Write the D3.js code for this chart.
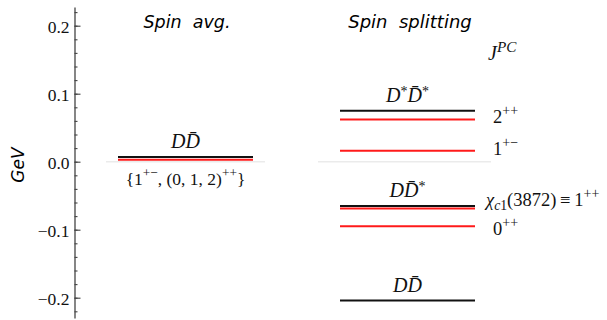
<!DOCTYPE html>
<html><head><meta charset="utf-8">
<script src="https://cdn.jsdelivr.net/npm/d3@7"></script>
<style>body{margin:0;background:#fff} svg{display:block}</style>
</head><body><svg id="c" width="607" height="320"></svg>
<script>
// ---- data ----
const panels = ["Spin avg.", "Spin splitting"];
const yTicks = [-0.2, -0.1, 0.0, 0.1, 0.2];
const yMinorTicks = [-0.22, -0.2, -0.18, -0.16, -0.14, -0.12, -0.1, -0.08, -0.06, -0.04, -0.02, 0, 0.02, 0.04, 0.06, 0.08, 0.1, 0.12, 0.14, 0.16, 0.18, 0.2, 0.22];
const levelPanel = [0, 0, 1, 1, 1, 1, 1, 1, 1];
const levelValue = [0.007, 0.003, 0.075, 0.062, 0.016, -0.065, -0.069, -0.095, -0.204];
const levelType  = ["threshold", "state", "threshold", "state", "state", "threshold", "state", "state", "threshold"];
// threshold labels, in order of threshold levels
const thresholdLabels = [
  [["D","i"],["D\u0304","i"]],
  [["D","i"],["*","ast"],["D\u0304","i"],["*","ast"]],
  [["D","i"],["D\u0304","i"],["*","ast"]],
  [["D","i"],["D\u0304","i"]]
];
// quantum-number labels (text, y in GeV)
const avgContent = [["{1","n"],["+\u2212","sup"],[", (0, 1, 2)","n"],["++","sup"],["}","n"]];
const jpcHeader = [["J","i"],["PC","supi"]];
const jpcLabels = [
  [["2","n"],["++","sup"]],
  [["1","n"],["+\u2212","sup"]],
  [["\u03C7","i"],["c","subi"],["1","sub"],["(3872)\u2009\u2261\u20091","n"],["++","sup"]],
  [["0","n"],["++","sup"]]
];
const jpcLabelValue = [0.057, 0.0099, -0.065, -0.108];
const jpcHeaderValue = 0.1496;

// ---- layout ----
const svg = d3.select("#c");
const y = d3.scaleLinear().domain([-0.23, 0.2275]).range([318.1, 7.0]);
const x = d3.scalePoint().domain(panels).range([185.5, 407.5]);
const halfW = 67.5;
const axisX = 74.5;
const serif = "'Liberation Serif', 'Times New Roman', serif";
const sans = "'DejaVu Sans', sans-serif";

// axis
const gAxis = svg.append("g").attr("transform", `translate(${axisX},0)`);
gAxis.call(d3.axisLeft(y).tickValues(yMinorTicks).tickSizeInner(-3).tickSizeOuter(0).tickFormat(""))
  .call(g => g.selectAll(".tick line").attr("stroke", "#444").attr("stroke-width", 1.1))
  .call(g => g.select(".domain").attr("stroke", "#444").attr("stroke-width", 1.3));
const gMaj = svg.append("g").attr("transform", `translate(${axisX},0)`)
  .attr("font-family", serif).attr("font-size", 17.5);
gMaj.call(d3.axisLeft(y).tickValues(yTicks).tickSizeInner(-6).tickSizeOuter(0).tickPadding(5).tickFormat(d3.format(".1f")))
  .attr("font-family", serif).attr("font-size", 17.5)
  .call(g => g.select(".domain").remove())
  .call(g => g.selectAll(".tick line").attr("stroke", "#444").attr("stroke-width", 1.1))
  .call(g => g.selectAll(".tick text").style("font-family", serif).style("font-size", "17.5px").attr("fill", "#111").attr("dy", "0.38em"));

// y label
svg.append("text").attr("transform", `translate(24,165) rotate(-90)`)
  .attr("text-anchor", "middle").attr("font-family", sans).attr("font-style", "oblique")
  .attr("font-size", 17).text("GeV");

// panel titles
svg.selectAll("text.title").data(panels).join("text").attr("class", "title")
  .attr("x", (d, i) => i === 0 ? 187 : 410).attr("y", 28)
  .attr("text-anchor", "middle").attr("font-family", sans).attr("font-style", "oblique")
  .attr("font-size", (d, i) => i === 0 ? 17.5 : 18).attr("xml:space", "preserve")
  .style("white-space", "pre")
  .text(d => d.replace(" ", "  "));

// zero guides
const guideExt = [[-79.5, 79.5], [-89.5, 83.5]];
panels.forEach((p, i) => {
  svg.append("line").attr("x1", x(p) + guideExt[i][0]).attr("x2", x(p) + guideExt[i][1])
    .attr("y1", y(0)).attr("y2", y(0)).attr("stroke", "#ebebeb").attr("stroke-width", 1.6);
});

// levels
const levels = levelValue.map((v, i) => ({ v, panel: panels[levelPanel[i]], type: levelType[i] }));
svg.selectAll("line.level").data(levels).join("line").attr("class", "level")
  .attr("x1", d => x(d.panel) - halfW).attr("x2", d => x(d.panel) + halfW)
  .attr("y1", d => y(d.v)).attr("y2", d => y(d.v))
  .attr("stroke", d => d.type === "threshold" ? "#111" : "#ff1a1a").attr("stroke-width", 2);

// rich text helper
function rich(g, segs, size) {
  const t = g.append("text").attr("font-family", serif).attr("font-size", size).attr("fill", "#111")
    .attr("xml:space", "preserve").style("white-space", "pre");
  let cur = 0;
  segs.forEach(([s, st]) => {
    let off = 0, fs = size, it = false;
    if (st === "i") it = true;
    if (st === "sup" || st === "supi") { off = -0.42 * size; fs = size * 0.76; it = st === "supi"; }
    if (st === "ast") { off = -0.3 * size; fs = size * 0.7; }
    if (st === "sub" || st === "subi") { off = 0.2 * size; fs = size * 0.74; it = st === "subi"; }
    t.append("tspan").attr("dy", off - cur).attr("font-size", fs)
      .attr("font-style", it ? "italic" : "normal").text(s);
    cur = off;
  });
  return t;
}

// threshold labels
const thr = levels.filter(d => d.type === "threshold");
thr.forEach((d, i) => {
  rich(svg, thresholdLabels[i], 20).attr("x", x(d.panel)).attr("y", y(d.v) - 8.5).attr("text-anchor", "middle");
});
// avg content label
rich(svg, avgContent, 17.5).attr("x", x(panels[0])).attr("y", y(levelValue[1]) + 25).attr("text-anchor", "middle");

// JPC labels
const rightEnd = x(panels[1]) + halfW;
rich(svg, jpcHeader, 20).attr("x", rightEnd + 13).attr("y", y(jpcHeaderValue));
jpcLabels.forEach((segs, i) => {
  rich(svg, segs, 18.5).attr("x", rightEnd + (i === 2 ? 11 : 18)).attr("y", y(jpcLabelValue[i]));
});
</script></body></html>
